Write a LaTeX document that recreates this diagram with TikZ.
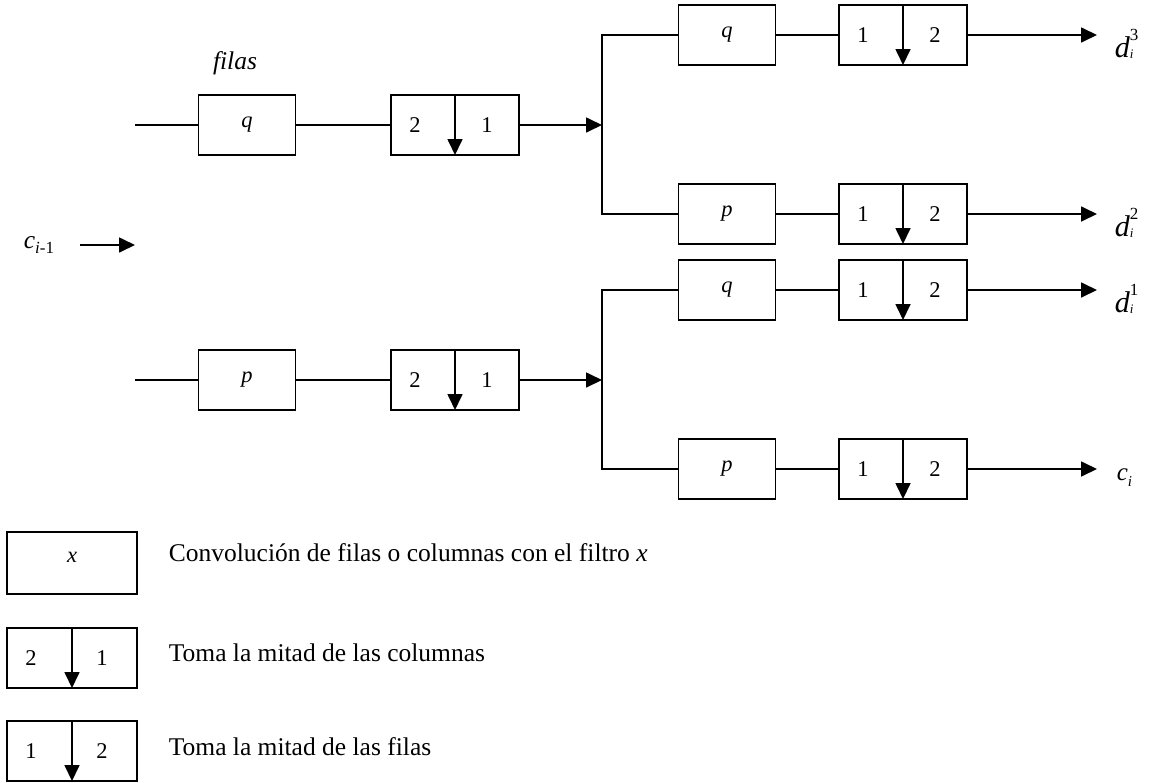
\documentclass[tikz,border=0pt]{standalone}
\usepackage{fontspec}
\setmainfont{Liberation Serif}
\usetikzlibrary{arrows.meta}

% output labels: italic letter with stacked sub/superscript
\newcommand{\stacklab}[2]{{\fontsize{30}{30}\selectfont\itshape d}\makebox[0pt][l]{\raisebox{-1pt}{\fontsize{13}{13}\selectfont\itshape #1}}\raisebox{17pt}{\fontsize{17}{17}\selectfont #2}}

\begin{document}
\begin{tikzpicture}[x=1pt,y=-1pt,
  line width=1.7pt,
  every node/.style={font=\fontsize{22.5}{27}\selectfont},
  filt/.style={draw,rectangle,minimum width=97pt,minimum height=60pt,inner sep=0pt,outer sep=0pt},
  half/.style={draw,rectangle,minimum width=128pt,minimum height=60pt,inner sep=0pt,outer sep=0pt},
  legbox/.style={draw,rectangle,minimum width=130pt,minimum height=60pt,inner sep=0pt,outer sep=0pt},
  arr/.style={-{Triangle[length=16pt,width=15pt]}},
  digit/.style={inner sep=0pt},
  legtext/.style={anchor=west,inner sep=0pt,font=\fontsize{25.5}{30}\selectfont}
]
\useasboundingbox (0,0) rectangle (1155,782);

% ---- column stage (upper) ----
\node[filt] (qa) at (247,125) {\textit{q}};
\node[half] (ca) at (455,125) {};
\node[font=\fontsize{25.5}{30}\selectfont\itshape] (filas) at (235,63) {filas};
\coordinate (ina) at (135,125);
\coordinate (sa) at (602,125);

% ---- column stage (lower) ----
\node[filt] (pa) at (247,380) {\textit{p}};
\node[half] (cb) at (455,380) {};
\coordinate (inb) at (135,380);
\coordinate (sb) at (602,380);

% ---- row stage ----
\node[filt] (q1) at (727,35) {\textit{q}};
\node[half] (r1) at (903,35) {};
\node[filt] (p1) at (727,214) {\textit{p}};
\node[half] (r2) at (903,214) {};
\node[filt] (q2) at (727,290) {\textit{q}};
\node[half] (r3) at (903,290) {};
\node[filt] (p2) at (727,469) {\textit{p}};
\node[half] (r4) at (903,469) {};

% digits inside the halving boxes
\foreach \b in {ca,cb}{
  \node[digit] at ([xshift=-40pt]\b.center) {2};
  \node[digit] at ([xshift=32pt]\b.center) {1};
}
\foreach \b in {r1,r2,r3,r4}{
  \node[digit] at ([xshift=-40pt]\b.center) {1};
  \node[digit] at ([xshift=32pt]\b.center) {2};
}
% dividing arrows
\foreach \b in {ca,cb,r1,r2,r3,r4}{
  \draw[arr] (\b.north) -- (\b.south);
}

% input
\node[font=\fontsize{25.5}{30}\selectfont] (cin) at (39,245) {\textit{c}\raisebox{-5pt}{\fontsize{17}{17}\selectfont\textit{i}-1}};
\coordinate (cina) at (80,245);
\coordinate (cinb) at (135,245);
\draw[arr] (cina) -- (cinb);

% flow
\draw (ina) -- (qa.west);
\draw (qa.east) -- (ca.west);
\draw[arr] (ca.east) -- (sa);
\draw (q1.west) -| (sa) |- (p1.west);
\draw (q1.east) -- (r1.west);
\draw (p1.east) -- (r2.west);

\draw (inb) -- (pa.west);
\draw (pa.east) -- (cb.west);
\draw[arr] (cb.east) -- (sb);
\draw (q2.west) -| (sb) |- (p2.west);
\draw (q2.east) -- (r3.west);
\draw (p2.east) -- (r4.west);

% outputs
\coordinate (o1) at (1097,35);
\coordinate (o2) at (1097,214);
\coordinate (o3) at (1097,290);
\coordinate (o4) at (1097,469);
\draw[arr] (r1.east) -- (o1);
\draw[arr] (r2.east) -- (o2);
\draw[arr] (r3.east) -- (o3);
\draw[arr] (r4.east) -- (o4);
\node[anchor=base west,inner sep=0pt] (d3) at (1114,57) {\stacklab{i}{3}};
\node[anchor=base west,inner sep=0pt] (d2) at (1114,236) {\stacklab{i}{2}};
\node[anchor=base west,inner sep=0pt] (d1) at (1114,312) {\stacklab{i}{1}};
\node[anchor=base west,inner sep=0pt,font=\fontsize{25}{30}\selectfont] (ci) at (1116,480) {\textit{c}\raisebox{-6pt}{\fontsize{15}{15}\selectfont\textit{i}}};

% legend
\node[legbox,minimum height=62pt] (lx) at (72,563) {};
\node[inner sep=0pt] (lxl) at (72,557) {\textit{x}};
\node[legbox] (lc) at (72,658) {};
\node[legbox] (lr) at (72,751) {};
\node[digit] at ([xshift=-41pt]lc.center) {2};
\node[digit] at ([xshift=30pt]lc.center) {1};
\node[digit] at ([xshift=-41pt]lr.center) {1};
\node[digit] at ([xshift=30pt]lr.center) {2};
\draw[arr] (lc.north) -- (lc.south);
\draw[arr] (lr.north) -- (lr.south);
\node[legtext] (tx) at (168,553) {Convolución de filas o columnas con el filtro \textit{x}};
\node[legtext] (tc) at (168,653) {Toma la mitad de las columnas};
\node[legtext] (tr) at (168,747) {Toma la mitad de las filas};
\end{tikzpicture}
\end{document}
